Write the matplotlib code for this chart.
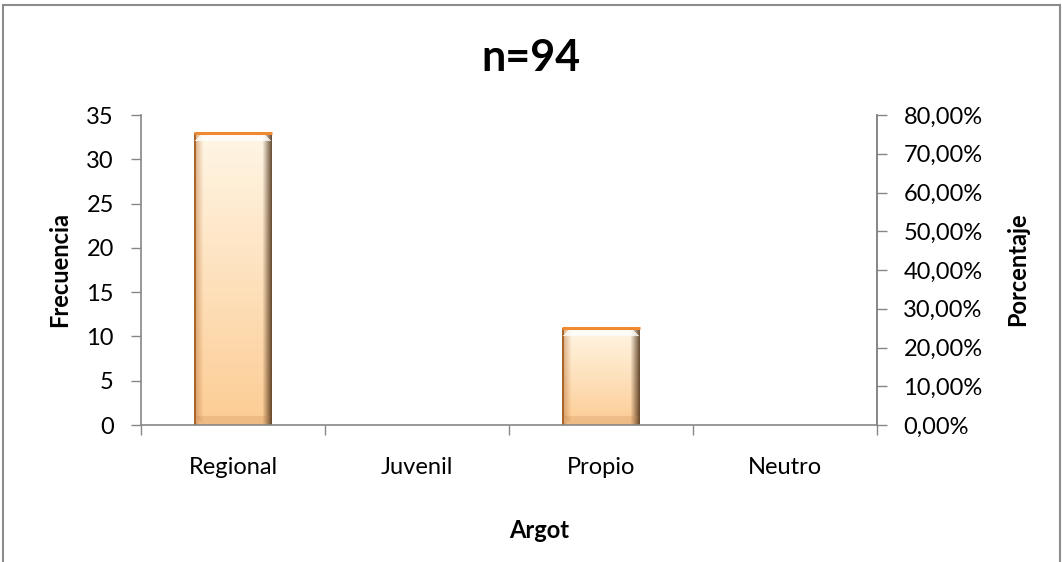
import numpy as np
import matplotlib
matplotlib.use("Agg")
import matplotlib.pyplot as plt
from matplotlib.patches import Rectangle
from matplotlib.ticker import FuncFormatter, FixedLocator

categories = ["Regional", "Juvenil", "Propio", "Neutro"]
frecuencia = [33, 0, 11, 0]
left_ticks = [0, 5, 10, 15, 20, 25, 30, 35]
right_ticks = [0.0, 0.1, 0.2, 0.3, 0.4, 0.5, 0.6, 0.7, 0.8]
title = "n=94"

plt.rcParams['font.family'] = ['Lato', 'DejaVu Sans']
W, H = 1062, 562
fig = plt.figure(figsize=(W / 100, H / 100), dpi=100)
fig.patch.set_facecolor('white')

ax_l, ax_r, ax_b, ax_t = 141, 877, 425, 115
ax = fig.add_axes([ax_l / W, 1 - ax_b / H, (ax_r - ax_l) / W, (ax_b - ax_t) / H])
ax.set_facecolor('none')

gray = '#868686'
x = np.arange(len(categories))
bw = 0.42
bars = ax.bar(x, frecuencia, width=bw, color='#FDD3A4', edgecolor='none', zorder=2)

top_c = np.array([1.0, 0.965, 0.90])
bot_c = np.array([0.99, 0.80, 0.58])
for b, v in zip(bars, frecuencia):
    if v <= 0:
        continue
    h = b.get_height()
    ny = int(round((h / 35) * 310))   # one row per pixel
    nx = 77
    ty = np.linspace(0, 1, ny)[:, None, None]
    img = top_c[None, None, :] * (1 - ty) + bot_c[None, None, :] * ty
    img = np.broadcast_to(img, (ny, nx, 3)).copy()
    bev = 9
    # left edge shading (full height)
    for c in range(bev):
        f = 1 - c / bev
        img[:, c, :] = img[:, c, :] * (1 - 0.6 * f) + np.array([0.75, 0.48, 0.25]) * 0.6 * f
    img[:, :2, :] = np.array([0.66, 0.40, 0.18])
    # right edge shading (full height)
    for c in range(nx - bev, nx):
        f = (c - (nx - bev) + 1) / bev
        img[:, c, :] = img[:, c, :] * (1 - 0.8 * f) + np.array([0.28, 0.17, 0.07]) * 0.8 * f
    # top bevel: light trapezoid
    for r in range(min(bev, ny)):
        k = bev - r
        img[r, k:nx - k, :] = img[r, k:nx - k, :] * 0.25 + 0.75
    # bottom bevel: darker trapezoid
    for r in range(min(bev, ny)):
        k = bev - r
        rr = ny - 1 - r
        img[rr, k:nx - k, :] = img[rr, k:nx - k, :] * 0.78 + np.array([0.75, 0.50, 0.30]) * 0.22
    im = ax.imshow(img, extent=[b.get_x(), b.get_x() + b.get_width(), 0, h],
                   aspect='auto', zorder=3, interpolation='bilinear')
    im.set_clip_path(b)
    ax.hlines(h, b.get_x(), b.get_x() + b.get_width(), color='#F08A30', lw=2.2, zorder=4)

ax.set_xlim(-0.5, len(categories) - 0.5)
ax.set_ylim(0, 35)
ax.set_yticks(left_ticks)
ax.set_xticks(x)
ax.set_xticklabels(categories)
ax.xaxis.set_minor_locator(FixedLocator(np.arange(len(categories) + 1) - 0.5))
ax.tick_params(axis='x', which='major', length=0, pad=23, labelsize=17, colors='black')
ax.tick_params(axis='x', which='minor', length=7, width=1, color=gray, direction='out')
ax.tick_params(axis='y', length=7, width=1, color=gray, pad=12.5, labelsize=17, labelcolor='black')
ax.spines['top'].set_visible(False)
for s in ['left', 'bottom', 'right']:
    ax.spines[s].set_color(gray)
    ax.spines[s].set_linewidth(1.2)
ax.spines['bottom'].set_zorder(5)

ax2 = ax.twinx()
ax2.set_ylim(0, 0.8)
ax2.set_yticks(right_ticks)
ax2.yaxis.set_major_formatter(FuncFormatter(lambda v, p: f"{v * 100:.2f}%".replace('.', ',')))
ax2.tick_params(axis='y', length=7, width=1, color=gray, pad=12, labelsize=17, labelcolor='black')
for s in ['top', 'left', 'bottom']:
    ax2.spines[s].set_visible(False)
ax2.spines['right'].set_color(gray)
ax2.spines['right'].set_linewidth(1.2)

fig.text(531 / W, 1 - 58 / H, title, ha='center', va='center', fontsize=31, fontweight='bold')
fig.text(60 / W, 1 - 269 / H, "Frecuencia", ha='center', va='center', rotation=90,
         fontsize=17, fontweight='bold')
fig.text(1018 / W, 1 - 269 / H, "Porcentaje", ha='center', va='center', rotation=90,
         fontsize=17, fontweight='bold')
fig.text(539 / W, 1 - 530 / H, "Argot", ha='center', va='center', fontsize=17, fontweight='bold')

# outer chart frame
fig.patches.append(Rectangle((3 / W, -0.05), (1060 - 3) / W, 1.05 - 5 / H,
                             transform=fig.transFigure, fill=False, edgecolor='#8c8c8c',
                             lw=1.5, zorder=10))

fig.savefig('out.png', dpi=100)
